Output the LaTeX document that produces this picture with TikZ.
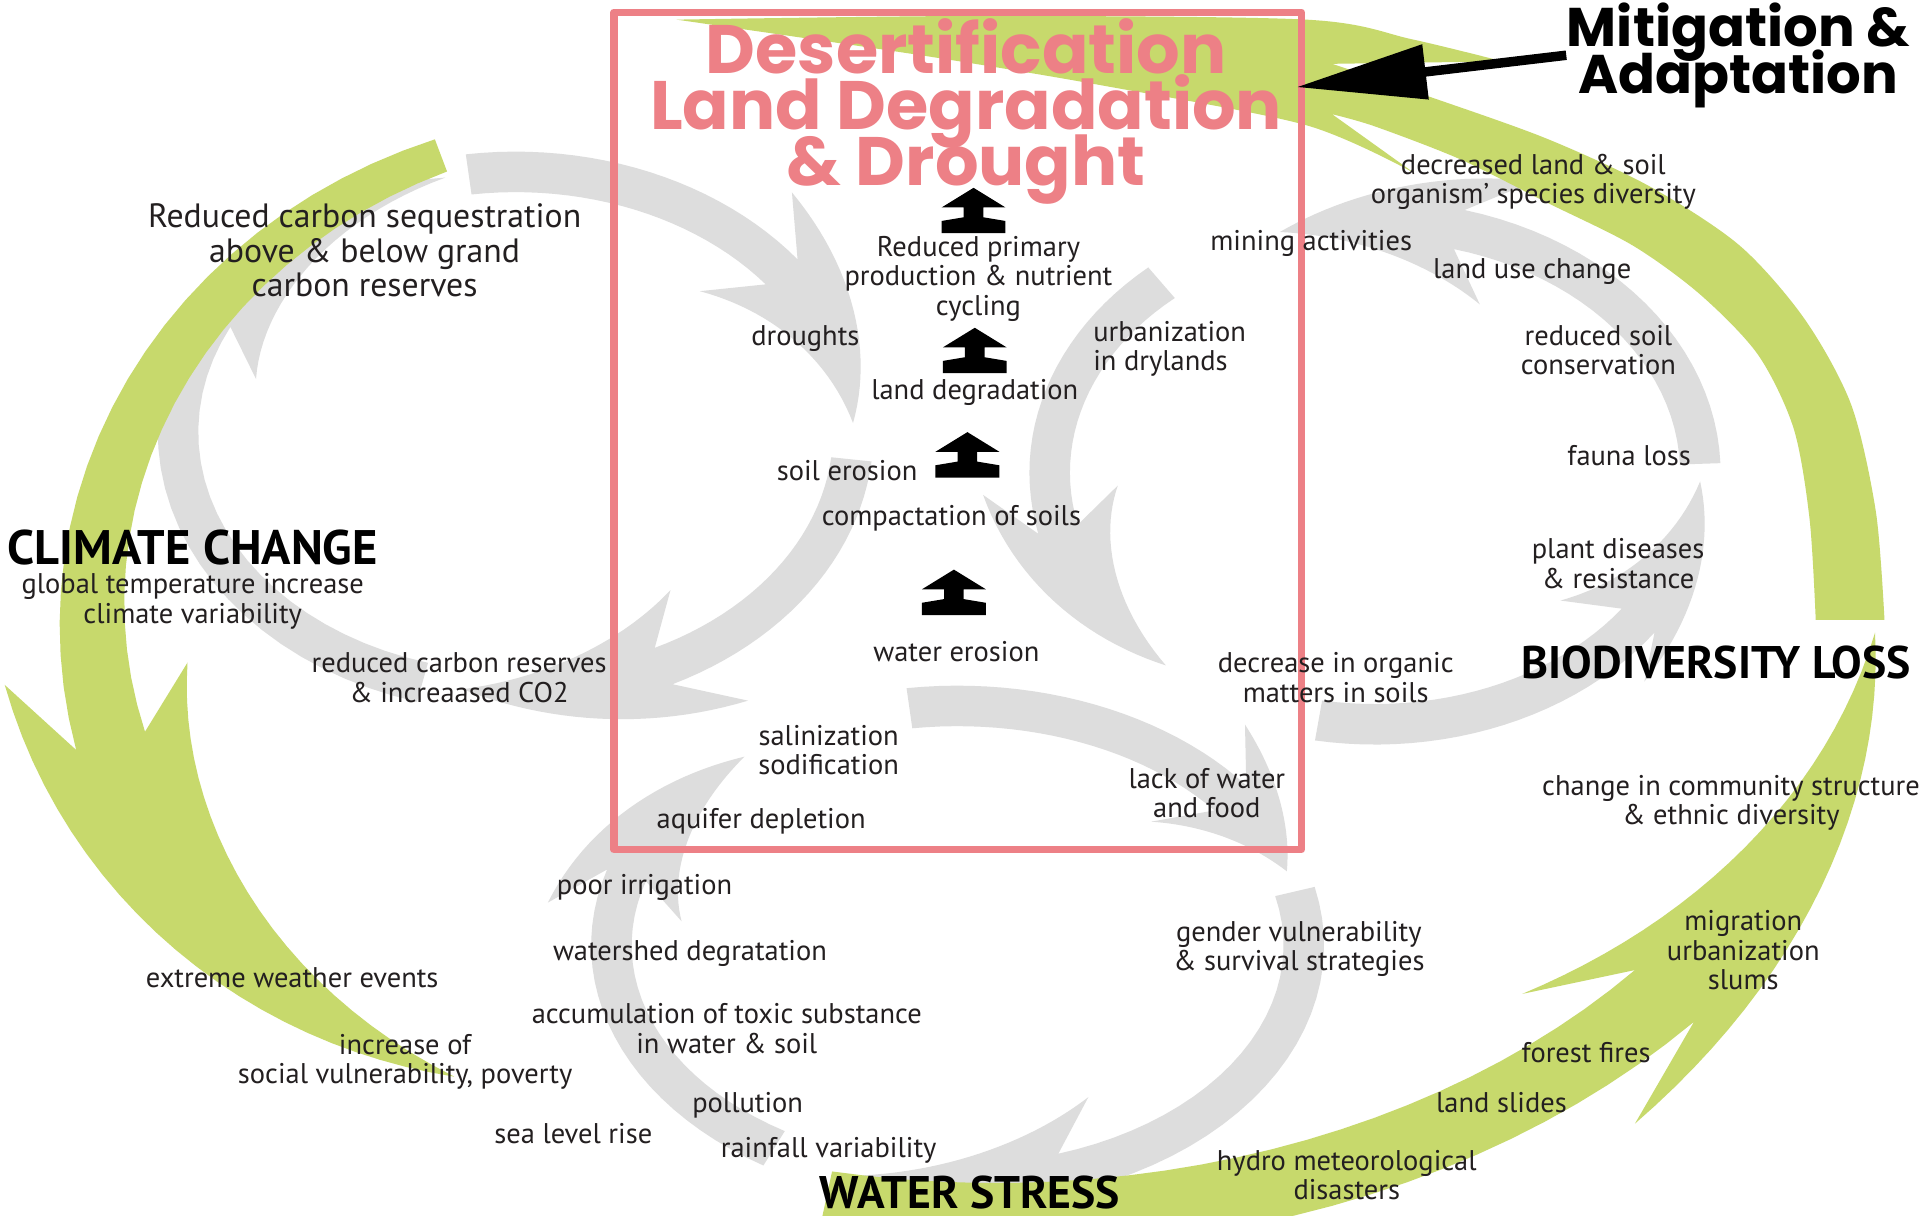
\documentclass[tikz,border=0pt]{standalone}
\usepackage{fontspec}
\setmainfont{PT Sans}
\newfontfamily\titlefont{Poppins}
\usetikzlibrary{arrows.meta}
\definecolor{loopgrey}{RGB}{221,221,221}
\definecolor{ringgreen}{RGB}{199,217,108}
\definecolor{ddpink}{RGB}{237,128,134}
\definecolor{lbltext}{RGB}{35,31,32}
\newcommand{\tightlines}{\lineskiplimit=-30pt\relax}

% band with a swept head, laid along an ellipse
% #1 style, #2 cx,cy,rx,ry  #3 tail,barb,notch,tip angle
% #4 tail half width,head half width,outer barb reach,inner barb reach
\newcommand{\loopband}[4]{%
  \def\ellpar##1,##2,##3,##4;{\def\ecx{##1}\def\ecy{##2}\def\erx{##3}\def\ery{##4}}%
  \def\angpar##1,##2,##3,##4;{\def\atl{##1}\def\abr{##2}\def\anc{##3}\def\atp{##4}}%
  \def\widpar##1,##2,##3,##4;{\def\wa{##1}\def\wb{##2}\def\ho{##3}\def\hi{##4}}%
  \ellpar#2;\angpar#3;\widpar#4;%
  \fill[#1] plot[domain=0:1,samples=25,variable=\t]
      ({\ecx+(\erx+\wa+(\wb-\wa)*\t)*cos(\atl+(\anc-\atl)*\t)},{\ecy+(\ery+\wa+(\wb-\wa)*\t)*sin(\atl+(\anc-\atl)*\t)})
    -- ({\ecx+(\erx+\ho)*cos(\abr)},{\ecy+(\ery+\ho)*sin(\abr)})
    -- plot[domain=0:1,samples=25,variable=\t]
      ({\ecx+(\erx+\ho*(1-\t))*cos(\abr+(\atp-\abr)*\t)},{\ecy+(\ery+\ho*(1-\t))*sin(\abr+(\atp-\abr)*\t)})
    -- plot[domain=0:1,samples=25,variable=\t]
      ({\ecx+(\erx-\hi*\t)*cos(\atp+(\abr-\atp)*\t)},{\ecy+(\ery-\hi*\t)*sin(\atp+(\abr-\atp)*\t)})
    -- ({\ecx+(\erx-\wb)*cos(\anc)},{\ecy+(\ery-\wb)*sin(\anc)})
    -- plot[domain=0:1,samples=25,variable=\t]
      ({\ecx+(\erx-\wb+(\wb-\wa)*\t)*cos(\anc+(\atl-\anc)*\t)},{\ecy+(\ery-\wb+(\wb-\wa)*\t)*sin(\anc+(\atl-\anc)*\t)})
    -- cycle;
}

\begin{document}
\begin{tikzpicture}[x=0.12277mm,y=-0.12277mm,line join=round,
  lbl/.style={font=\fontsize{8.1}{8.4}\selectfont\tightlines,text=lbltext,align=center,inner sep=0pt},
  biglbl/.style={lbl,font=\fontsize{9.6}{9.8}\selectfont\tightlines},
  cycname/.style={font=\fontsize{13}{14}\selectfont\bfseries,text=black,inner sep=0pt},
  ttl/.style={font=\titlefont\bfseries\fontsize{19.5}{16}\selectfont\tightlines,text=ddpink,align=center,inner sep=0pt},
  mit/.style={font=\titlefont\bfseries\fontsize{15.5}{13.3}\selectfont\tightlines,text=black,align=center,inner sep=0pt},
  ddbox/.style={draw=ddpink,line width=0.74mm,inner sep=0pt,outer sep=0pt,minimum width=68.75mm,minimum height=83.73mm},
  mitarrow/.style={line width=0.95mm,-{Triangle[length=13mm,width=5.3mm]}},
  loopfill/.style={fill=loopgrey},
  ringfill/.style={fill=ringgreen}]
  \fill[white] (0,0) rectangle (1568,990);
  \useasboundingbox (0,0) rectangle (1568,990);
  \begin{scope}
    \clip (0,0) rectangle (1568,990);
    % climate change loop
    \loopband{loopfill}{420,352,275,212}{262,313,322,358}{16.5,16.5,55,55}
    \loopband{loopfill}{420,352,275,212}{6,55,64,99}{16.5,16.5,55,55}
    \loopband{loopfill}{420,352,275,212}{106,196,206,258}{16.5,16.5,28,55}
    % biodiversity loop
    \loopband{loopfill}{1120,385,265,205}{358,294,285,253}{16.5,16.5,55,55}
    \loopband{loopfill}{1120,385,265,205}{229,176,167,130}{16.5,16.5,55,55}
    \loopband{loopfill}{1120,385,265,205}{100,44,36,2}{16.5,16.5,40,55}
    % water stress loop
    \loopband{loopfill}{780,770,282,195}{262,314,322,342}{16.5,16.5,55,55}
    \loopband{loopfill}{780,770,282,195}{347,422,432,466}{16.5,16.5,55,55}
    \loopband{loopfill}{780,770,282,195}{122,188,197,232}{16.5,16.5,55,55}
    % outer ring
    \loopband{ringfill}{518,500,443,400}{249,173,165,109.5}{14,29,75,75}
    \loopband{ringfill}{820,470,710,520}{102,49,41,5}{25,32,70,70}
    \fill[ringfill] plot[smooth] coordinates {(1479,505) (1474,423) (1461,349) (1432,289) (1385,240)
        (1330,200) (1260,165) (1190,130) (1120,103) (1085,93)}
      -- (1152,141)
      -- plot[smooth] coordinates {(1152,141) (1064,102) (900,70) (750,45) (551,16)}
      -- plot[smooth] coordinates {(551,16) (800,13) (1064,16) (1150,32) (1224,50)}
      -- (1085,52)
      -- plot[smooth] coordinates {(1085,52) (1165,79) (1260,113) (1344,152) (1417,200)
        (1470,260) (1508,330) (1528,417) (1535,505)}
      -- cycle;
  \end{scope}

  \node[ddbox] (box) at (780,351) {};
  \foreach \ux/\uy in {793/153,794/267,788/352,777/464}
    \fill[black] (\ux,\uy) -- ++(26,16) -- ++(-18,0) -- ++(0,8) -- ++(18,3) -- ++(0,10)
      -- ++(-52,0) -- ++(0,-10) -- ++(18,-3) -- ++(0,-8) -- ++(-18,0) -- cycle;

  \node[ttl] (title) at (787,91) {Desertification\\Land Degradation\\\& Drought};
  \node[mit] (mitig) at (1416,45) {Mitigation \&\\Adaptation};
  \coordinate (mtip) at (1056,71);
  \draw[mitarrow] (mitig.west) -- (mtip);

  \node[biglbl] (carbseq) at (297,204) {Reduced carbon sequestration\\above \& below grand\\carbon reserves};
  \node[cycname,font=\fontsize{13.8}{14}\selectfont\bfseries] (climate) at (157,446) {CLIMATE CHANGE};
  \node[lbl] (climsub) at (157,490) {global temperature increase\\climate variability};
  \node[lbl] (carbres) at (374,552) {reduced carbon reserves\\\& increaased CO2};
  \node[lbl] (primary) at (797,227) {Reduced primary\\production \& nutrient\\cycling};
  \node[lbl] (drought) at (656,276) {droughts};
  \node[lbl,align=left,anchor=west] (urban) at (890,284) {urbanization\\in drylands};
  \node[lbl] (landdeg) at (794,320) {land degradation};
  \node[lbl] (mining) at (1068,198) {mining activities};
  \node[lbl] (soilero) at (690,383) {soil erosion};
  \node[lbl] (compact) at (775,422) {compactation of soils};
  \node[lbl] (watero) at (779,531) {water erosion};
  \node[lbl] (organic) at (1088,552) {decrease in organic\\matters in soils};
  \node[lbl] (salin) at (675,611) {salinization\\sodification};
  \node[lbl] (lackwf) at (983,646) {lack of water\\and food};
  \node[lbl] (aquifer) at (620,669) {aquifer depletion};
  \node[lbl] (soilorg) at (1249,148) {decreased land \& soil\\organism’ species diversity};
  \node[lbl] (landuse) at (1248,221) {land use change};
  \node[lbl] (redsoil) at (1302,285) {reduced soil\\conservation};
  \node[lbl] (fauna) at (1327,371) {fauna loss};
  \node[lbl] (plant) at (1318,459) {plant diseases\\\& resistance};
  \node[cycname] (biodiv) at (1398,540) {BIODIVERSITY LOSS};
  \node[lbl] (commun) at (1410,654) {change in community structure\\\& ethnic diversity};
  \node[lbl] (migr) at (1420,774) {migration\\urbanization\\slums};
  \node[lbl] (forest) at (1292,857) {forest fires};
  \node[lbl] (landsl) at (1223,898) {land slides};
  \node[lbl] (hydro) at (1097,957) {hydro meteorological\\disasters};
  \node[cycname] (water) at (790,971) {WATER STRESS};
  \node[lbl] (gender) at (1058,773) {gender vulnerability\\\& survival strategies};
  \node[lbl] (irrig) at (525,723) {poor irrigation};
  \node[lbl] (watersh) at (562,777) {watershed degratation};
  \node[lbl] (toxic) at (592,838) {accumulation of toxic substance\\in water \& soil};
  \node[lbl] (pollut) at (609,900) {pollution};
  \node[lbl] (sealev) at (467,923) {sea level rise};
  \node[lbl] (rainf) at (675,937) {rainfall variability};
  \node[lbl] (extreme) at (238,796) {extreme weather events};
  \node[lbl] (social) at (330,865) {increase of\\social vulnerability, poverty};
\end{tikzpicture}
\end{document}
